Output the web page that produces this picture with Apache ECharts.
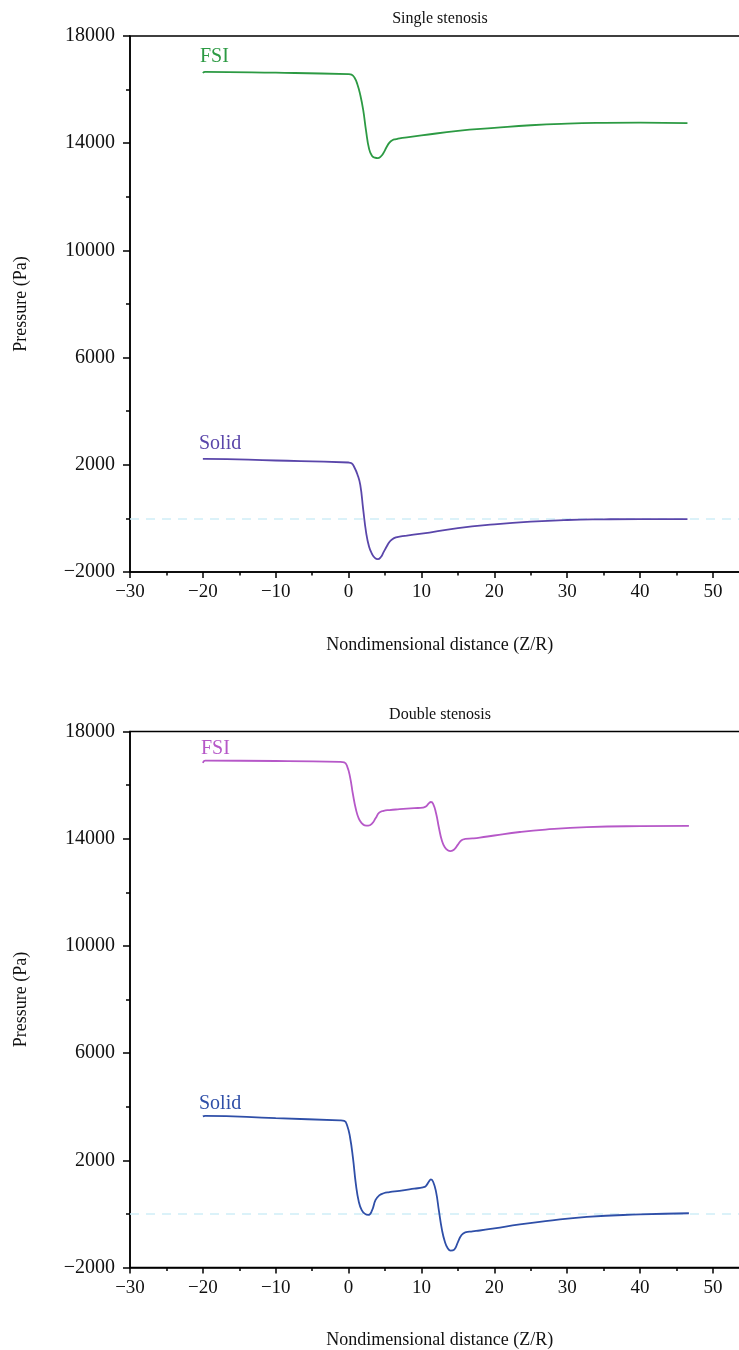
<!DOCTYPE html>
<html>
<head>
<meta charset="utf-8">
<script src="https://cdn.jsdelivr.net/npm/echarts@6/dist/echarts.min.js"></script>
<style>html,body{margin:0;padding:0;background:#fff}#c{width:739px;height:1350px}</style>
</head>
<body>
<div id="c"></div>
<script>
// ---- Data ----
const singleX      = [-20, -19.7, -10, 0, 0.4, 0.8, 1.2, 1.6, 2.0, 2.4, 2.8, 3.2, 3.6, 4.0, 4.4, 4.8, 5.2, 5.6, 6.0, 6.5, 7, 8, 10, 15, 20, 25, 30, 35, 40, 46.5];
const singleFsi    = [16620, 16660, 16630, 16580, 16560, 16450, 16200, 15800, 15240, 14450, 13800, 13530, 13460, 13440, 13500, 13640, 13850, 14020, 14110, 14150, 14180, 14220, 14290, 14460, 14570, 14670, 14730, 14760, 14770, 14750];
const singleSolid  = [2220, 2220, 2160, 2085, 2060, 1900, 1650, 1250, 340, -520, -1050, -1320, -1470, -1520, -1450, -1260, -1060, -880, -780, -710, -680, -640, -570, -360, -220, -120, -60, -35, -25, -25];

const doubleX      = [-20, -19.7, -10, -1.2, -0.6, -0.2, 0.2, 0.6, 1.0, 1.4, 1.8, 2.2, 2.7, 3.2, 3.7, 4.2, 4.8, 5.6, 7, 9, 10.2, 10.6, 11.0, 11.3, 11.6, 12.0, 12.4, 12.8, 13.2, 13.6, 14.0, 14.5, 15.0, 15.5, 16.0, 17, 18, 20, 23.5, 27, 32.7, 40, 46.7];
const doubleFsi    = [16830, 16910, 16900, 16870, 16850, 16700, 16300, 15650, 15100, 14750, 14580, 14500, 14485, 14560, 14760, 14970, 15040, 15070, 15100, 15140, 15160, 15200, 15320, 15370, 15300, 14950, 14400, 13930, 13680, 13570, 13540, 13600, 13780, 13940, 13990, 14010, 14040, 14120, 14250, 14340, 14430, 14470, 14480];
const doubleSolid  = [3640, 3660, 3570, 3490, 3470, 3300, 2850, 2080, 1100, 450, 140, 10, -40, 120, 520, 690, 770, 810, 860, 940, 990, 1040, 1200, 1290, 1200, 820, 100, -580, -1030, -1280, -1370, -1330, -1050, -790, -690, -650, -620, -540, -390, -270, -110, -20, 25];

const xTicks = [-30, -20, -10, 0, 10, 20, 30, 40, 50];
const yTicks = [-2000, 2000, 6000, 10000, 14000, 18000];
const titles = ['Single stenosis', 'Double stenosis'];
const seriesNames = ['FSI', 'Solid'];

// ---- Styles ----
const FONT = '"Liberation Serif", "DejaVu Serif", serif';
const colors = { sFsi: '#2c9a43', sSolid: '#5a46aa', dFsi: '#b658c8', dSolid: '#2f4fa8' };
const pair = (xs, ys) => xs.map((x, i) => [x, ys[i]]);
const fmt = v => String(v).replace('-', '\u2212');

const gridTops = [36, 731.5];
const gridH = 536;

function xAxisFor(i) {
  return {
    type: 'value', gridIndex: i, min: -30, max: 55, interval: 10,
    name: 'Nondimensional distance (Z/R)', nameLocation: 'middle', nameGap: 64,
    nameTextStyle: { fontFamily: FONT, fontSize: 18, color: '#111' },
    axisLine: { show: true, onZero: false, lineStyle: { color: '#000', width: 1.5 } },
    axisTick: { show: true, length: 6, lineStyle: { color: '#000', width: 1.5 } },
    minorTick: { show: true, splitNumber: 2, length: 3.5, lineStyle: { color: '#000', width: 1.5 } },
    splitLine: { show: false },
    axisLabel: { fontFamily: FONT, fontSize: 19, color: '#111', margin: 11, showMaxLabel: false,
      formatter: v => xTicks.indexOf(v) >= 0 ? fmt(v) : '' }
  };
}
function yAxisFor(i) {
  return {
    type: 'value', gridIndex: i, min: -2000, max: 18000, interval: 4000,
    name: 'Pressure (Pa)', nameLocation: 'middle', nameGap: 100,
    nameTextStyle: { fontFamily: FONT, fontSize: 18, color: '#111' },
    axisLine: { show: true, onZero: false, lineStyle: { color: '#000', width: 1.5 } },
    axisTick: { show: true, length: 7, lineStyle: { color: '#000', width: 1.5 } },
    minorTick: { show: true, splitNumber: 2, length: 4, lineStyle: { color: '#000', width: 1.5 } },
    splitLine: { show: false },
    axisLabel: { fontFamily: FONT, fontSize: 20, color: '#111', margin: 15,
      formatter: v => yTicks.indexOf(v) >= 0 ? fmt(v) : '' }
  };
}
function lineSeries(name, gi, xs, ys, color, zero) {
  const s = {
    name, type: 'line', xAxisIndex: gi, yAxisIndex: gi,
    data: pair(xs, ys), showSymbol: false, symbol: 'none',
    smooth: 0.5,
    lineStyle: { color, width: 1.8 }, itemStyle: { color }, z: 3
  };
  if (zero) {
    s.markLine = { silent: true, symbol: 'none', label: { show: false },
      lineStyle: { type: [9, 7], color: '#cfeef7', width: 1.5 },
      data: [{ yAxis: 0 }], z: 1 };
  }
  return s;
}

const textLabel = (text, x, y, color) => ({
  type: 'text', style: { text, x, y, fill: color, font: '20px ' + FONT, verticalAlign: 'middle' }
});

const option = {
  animation: false,
  backgroundColor: '#fff',
  title: titles.map((t, i) => ({
    text: t, left: 435, top: i === 0 ? 6 : 702, textAlign: 'center',
    textStyle: { fontFamily: FONT, fontSize: 16, fontWeight: 'normal', color: '#111' }
  })),
  grid: gridTops.map(t => ({
    left: 130, top: t, width: 619.4, height: gridH, show: true, outerBoundsMode: 'none',
    borderColor: '#000', borderWidth: 1.5, backgroundColor: 'transparent', containLabel: false
  })),
  xAxis: [xAxisFor(0), xAxisFor(1)],
  yAxis: [yAxisFor(0), yAxisFor(1)],
  series: [
    lineSeries(seriesNames[1], 0, singleX, singleSolid, colors.sSolid, true),
    lineSeries(seriesNames[0], 0, singleX, singleFsi, colors.sFsi, false),
    lineSeries(seriesNames[1], 1, doubleX, doubleSolid, colors.dSolid, true),
    lineSeries(seriesNames[0], 1, doubleX, doubleFsi, colors.dFsi, false)
  ],
  graphic: [
    textLabel(seriesNames[0], 200, 57, colors.sFsi),
    textLabel(seriesNames[1], 199, 444, colors.sSolid),
    textLabel(seriesNames[0], 201, 749, colors.dFsi),
    textLabel(seriesNames[1], 199, 1104, colors.dSolid)
  ]
};

const chart = echarts.init(document.getElementById('c'), null, { renderer: 'canvas' });
chart.setOption(option);
</script>
</body>
</html>
